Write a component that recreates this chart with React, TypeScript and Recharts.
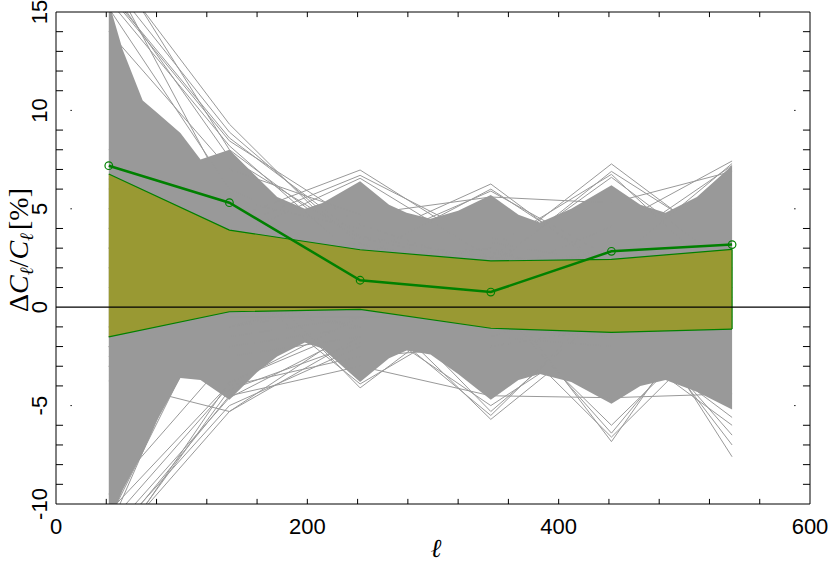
import React from 'react';
import { ComposedChart, Line, Area, XAxis, YAxis, ReferenceLine } from 'recharts';

// multipole bins (ℓ)
const ELL = [42, 138, 242, 346, 442, 538];
// measured ΔC/C [%]
const MEASURED = [7.19, 5.31, 1.37, 0.77, 2.84, 3.18];
// olive 1-sigma band
const BAND_LOW = [-1.51, -0.23, -0.11, -1.07, -1.28, -1.11];
const BAND_HIGH = [6.77, 3.92, 2.92, 2.35, 2.43, 2.94];

// dense envelope of the simulated curves
const CORE_ELL = [42, 53, 69, 80, 99, 115, 138, 160, 176, 198, 212, 242, 265, 279, 298, 320, 346, 368, 385, 410, 442, 465, 485, 510, 538];
const CORE_HIGH = [15.5, 13.1, 10.5, 9.9, 8.85, 7.5, 8.0, 6.6, 5.6, 5.0, 5.3, 6.4, 5.2, 4.8, 4.5, 4.9, 5.7, 4.7, 4.3, 5.0, 6.2, 5.2, 4.8, 5.6, 7.2];
const CORE_LOW = [-11, -9.3, -7.4, -5.8, -3.6, -3.7, -4.7, -3.3, -2.5, -1.8, -2.1, -3.8, -2.6, -2.2, -2.4, -3.4, -4.7, -3.7, -3.4, -3.8, -4.9, -4.0, -3.7, -4.3, -5.2];

// individual simulated curves that stand out of the dense envelope
const SIM_UPPER = [
  [17.4, 9.3, 2.7, 1.5, 3.0, 2.0],
  [16.6, 8.9, 3.2, 2.0, 1.5, 3.0],
  [16.0, 8.6, 3.6, 2.5, 2.0, 1.0],
  [15.6, 8.2, 2.4, 3.0, 1.0, 2.5],
  [17.8, 8.0, 3.0, 1.8, 2.5, 2.0],
  [16.3, 7.6, 3.5, 2.2, 1.8, 2.6],
  [15.9, 8.45, 4.2, 2.0, 2.8, 1.5],
  [5.0, 4.45, 6.97, 2.8, 1.5, 2.0],
  [8.0, 4.0, 6.7, 3.3, 2.2, 1.2],
  [6.5, 3.5, 6.55, 2.5, 1.8, 2.2],
  [6.0, 2.5, 3.26, 6.26, 1.7, 2.0],
  [4.0, 3.0, 2.5, 6.0, 2.0, 3.0],
  [5.0, 2.0, 3.0, 5.9, 2.5, 1.5],
  [3.0, 1.5, 1.0, 2.5, 7.28, 2.7],
  [2.0, 2.5, 2.0, 2.0, 6.9, 3.0],
  [1.0, 0.5, 1.5, 2.2, 6.6, 2.0],
  [4.0, 1.5, 2.0, 3.0, 6.75, 1.0],
  [3.0, 2.0, 2.5, 1.5, 4.1, 7.43],
  [2.0, 1.0, 2.0, 3.0, 3.0, 7.2],
  [3.0, 2.5, 1.5, 2.5, 2.2, 7.3],
  [14.0, 7.0, 4.7, 5.6, 5.3, 6.9],
  [17.0, 5.5, 4.0, 3.5, 3.0, 2.5],
  [15.2, 6.0, 3.0, 2.0, 2.0, 3.0],
];
const SIM_LOWER = [
  [-12.8, -3.8, -1.0, 0.0, -1.0, 0.5],
  [-12.3, -5.3, -0.9, -0.5, 0.0, -1.0],
  [-3.75, -5.3, -1.5, -1.0, -0.5, 0.5],
  [-11.8, -5.0, -2.0, -1.5, -2.0, -1.0],
  [-12.6, -4.2, -1.8, -0.5, -1.2, 0.0],
  [-11.5, -4.6, -1.2, -1.0, 0.5, -0.8],
  [-10.4, -3.9, -0.5, -2.0, -1.0, 0.0],
  [-11.3, 2.7, -4.1, 0.9, -0.5, 0.5],
  [-10.8, 1.5, -3.9, 0.0, 1.0, -0.5],
  [-2.0, -1.0, 0.77, -5.7, -0.75, 0.0],
  [-3.0, 0.0, 1.5, -5.3, 0.0, -1.0],
  [-1.0, -1.5, -0.5, -5.0, -1.0, 0.5],
  [-1.5, 0.0, 0.0, -5.5, 0.5, -0.5],
  [-2.0, 0.5, -1.0, 1.2, -6.83, 1.9],
  [-1.5, -1.0, 0.0, 0.5, -6.4, 1.0],
  [-3.0, -2.0, -1.0, 0.0, -6.0, 0.0],
  [-2.0, -0.5, -0.5, -0.5, -6.6, -0.5],
  [-1.0, 0.0, -1.0, -0.5, 2.0, -7.6],
  [-2.5, -1.0, 0.5, -1.5, 0.5, -6.5],
  [-1.5, -0.5, -0.5, 0.0, 1.0, -7.0],
  [-12.0, -4.5, -3.0, -4.5, -4.6, -4.4],
  [-9.5, -2.5, -1.5, -1.0, -1.5, -6.0],
  [-11.0, -4.0, -2.5, -2.0, -1.0, -5.6],
];

// axes
const X_DOMAIN = [0, 600];
const Y_DOMAIN = [-10, 15];
const X_LABELS = [0, 200, 400, 600];
const Y_LABELS = [-10, -5, 0, 5, 10, 15];
const X_MINOR = [40, 80, 120, 160, 200, 240, 280, 320, 360, 400, 440, 480, 520, 560];
const Y_MINOR = [-9, -8, -7, -6, -4, -3, -2, -1, 1, 2, 3, 4, 6, 7, 8, 9, 11, 12, 13, 14];
const Y_DOTS = [-5, 5, 10];

const SIMS = [...SIM_UPPER, ...SIM_LOWER];
const simRows = ELL.map((l, i) => {
  const r: Record<string, number> = { l };
  SIMS.forEach((s, j) => {
    r['s' + j] = s[i];
  });
  return r;
});
const coreRows = CORE_ELL.map((l, i) => ({ l, hi: CORE_HIGH[i], lo: CORE_LOW[i] }));
const bandRows = ELL.map((l, i) => ({ l, range: [BAND_LOW[i], BAND_HIGH[i]] }));
const measuredRows = ELL.map((l, i) => ({ l, v: MEASURED[i] }));

const W = 829;
const H = 566;
const GREY = '#999999';
const GREEN = '#008000';
const OLIVE = '#999933';
const FONT = '"Liberation Sans", Arial, Helvetica, sans-serif';
const SERIF = '"Liberation Serif", "DejaVu Serif", serif';
// tick lengths in data units (about 5px vertical, 7px horizontal)
const XT = 0.26;
const YT = 5.6;

const XTick = (props: any) => {
  const { x, payload } = props;
  return (
    <text x={x} y={534} textAnchor="middle" fontSize={22} fontFamily={FONT} fill="#000">
      {payload.value}
    </text>
  );
};

const YTick = (props: any) => {
  const { y, payload } = props;
  const bx = 47;
  return (
    <text
      x={bx}
      y={y}
      transform={`rotate(-90 ${bx} ${y})`}
      textAnchor="middle"
      fontSize={22}
      fontFamily={FONT}
      fill="#000"
    >
      {payload.value}
    </text>
  );
};

export default function App() {
  const tickStyle = { stroke: '#000', strokeWidth: 1 };
  return (
    <div style={{ position: 'absolute', left: 0, top: 0, width: W, height: H, background: '#fff' }}>
      <ComposedChart width={W} height={H} margin={{ top: 12, right: 19, bottom: 0, left: 0 }}>
        <XAxis
          dataKey="l"
          type="number"
          domain={X_DOMAIN}
          ticks={X_LABELS}
          interval={0}
          allowDataOverflow
          height={62}
          tickLine={false}
          axisLine={{ stroke: '#000', strokeWidth: 1 }}
          tick={<XTick />}
        />
        <YAxis
          type="number"
          domain={Y_DOMAIN}
          ticks={Y_LABELS}
          interval={0}
          allowDataOverflow
          width={56}
          tickLine={false}
          axisLine={{ stroke: '#000', strokeWidth: 1 }}
          tick={<YTick />}
        />

        {/* dense part of the simulations */}
        <Area
          data={coreRows}
          dataKey="hi"
          baseValue={0}
          type="linear"
          fill={GREY}
          fillOpacity={1}
          stroke="none"
          isAnimationActive={false}
        />
        <Area
          data={coreRows}
          dataKey="lo"
          baseValue={0}
          type="linear"
          fill={GREY}
          fillOpacity={1}
          stroke="none"
          isAnimationActive={false}
        />
        {/* individual simulated curves */}
        {SIMS.map((_, j) => (
          <Area
            key={'s' + j}
            data={simRows}
            dataKey={'s' + j}
            baseValue={0}
            type="linear"
            fill="none"
            fillOpacity={0}
            stroke={GREY}
            strokeWidth={1}
            dot={false}
            activeDot={false}
            isAnimationActive={false}
          />
        ))}
        <Area
          data={bandRows}
          dataKey="range"
          type="linear"
          fill={OLIVE}
          fillOpacity={1}
          stroke={GREEN}
          strokeWidth={1.2}
          isAnimationActive={false}
        />
        <ReferenceLine
          segment={[
            { x: ELL[ELL.length - 1], y: BAND_LOW[BAND_LOW.length - 1] },
            { x: ELL[ELL.length - 1], y: BAND_HIGH[BAND_HIGH.length - 1] },
          ]}
          stroke={GREEN}
          strokeWidth={1.2}
        />
        <ReferenceLine y={0} stroke="#000" strokeWidth={1.2} />
        <Line
          data={measuredRows}
          dataKey="v"
          type="linear"
          stroke={GREEN}
          strokeWidth={2.5}
          dot={{ r: 3.8, stroke: GREEN, strokeWidth: 1.2, fill: 'none' }}
          activeDot={false}
          isAnimationActive={false}
        />

        {/* frame: top and right */}
        <ReferenceLine y={Y_DOMAIN[1]} stroke="#000" strokeWidth={1} />
        <ReferenceLine x={X_DOMAIN[1]} stroke="#000" strokeWidth={1} />

        {/* inward ticks */}
        {X_MINOR.map((t) => (
          <ReferenceLine key={'xb' + t} segment={[{ x: t, y: Y_DOMAIN[0] }, { x: t, y: Y_DOMAIN[0] + XT }]} {...tickStyle} />
        ))}
        {X_MINOR.map((t) => (
          <ReferenceLine key={'xt' + t} segment={[{ x: t, y: Y_DOMAIN[1] }, { x: t, y: Y_DOMAIN[1] - XT }]} {...tickStyle} />
        ))}
        {Y_MINOR.map((t) => (
          <ReferenceLine key={'yl' + t} segment={[{ x: X_DOMAIN[0], y: t }, { x: X_DOMAIN[0] + YT, y: t }]} {...tickStyle} />
        ))}
        {Y_MINOR.map((t) => (
          <ReferenceLine key={'yr' + t} segment={[{ x: X_DOMAIN[1], y: t }, { x: X_DOMAIN[1] - YT, y: t }]} {...tickStyle} />
        ))}
        {Y_DOTS.map((t) => (
          <ReferenceLine key={'dl' + t} segment={[{ x: 11.5, y: t }, { x: 12.6, y: t }]} {...tickStyle} />
        ))}
        {Y_DOTS.map((t) => (
          <ReferenceLine key={'dr' + t} segment={[{ x: 587.4, y: t }, { x: 588.5, y: t }]} {...tickStyle} />
        ))}
      </ComposedChart>

      {/* axis titles */}
      <svg width={W} height={H} style={{ position: 'absolute', left: 0, top: 0, pointerEvents: 'none' }}>
        <text x={436} y={557} textAnchor="middle" fontSize={26} fontStyle="italic" fontFamily={SERIF}>
          ℓ
        </text>
        <text x={28} y={250} transform="rotate(-90 28 250)" textAnchor="middle" fontSize={28} fontFamily={SERIF}>
          <tspan>Δ</tspan>
          <tspan fontStyle="italic">C</tspan>
          <tspan fontStyle="italic" fontSize={19} dy={5}>ℓ</tspan>
          <tspan dy={-5}>/</tspan>
          <tspan fontStyle="italic">C</tspan>
          <tspan fontStyle="italic" fontSize={19} dy={5}>ℓ</tspan>
          <tspan dy={-5} dx={3}>[%]</tspan>
        </text>
      </svg>
    </div>
  );
}
